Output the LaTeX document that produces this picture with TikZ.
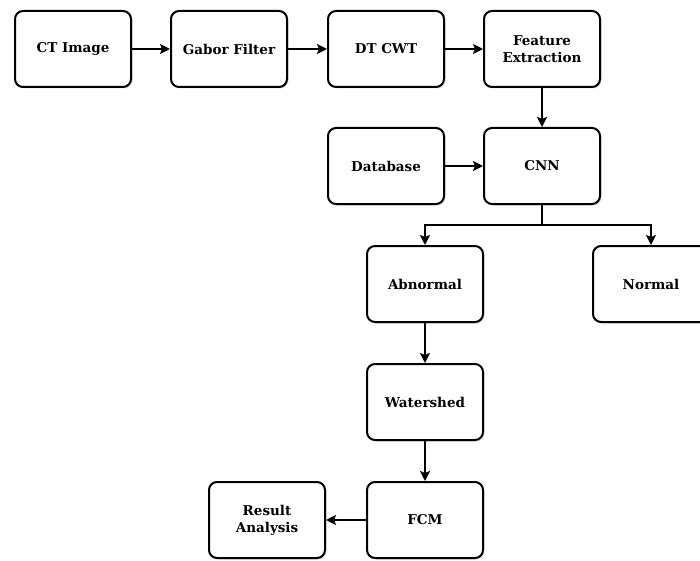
\documentclass[tikz,border=0pt]{standalone}
\usepackage{fontspec}
\setmainfont{DejaVu Serif}
\usetikzlibrary{
  arrows.meta,
  positioning,
  shadows
}
\tikzset{
  % Shared values that are assigned to different keys in the styles below.
  globals/box width/.initial=116pt,
  globals/box height/.initial=76pt,
%
  % For the process boxes.
  box/.style={
    draw,
    line width=2pt,
    rounded corners=8pt,
    fill=white,
    minimum width=\pgfkeysvalueof{/tikz/globals/box width},
    minimum height=\pgfkeysvalueof{/tikz/globals/box height},
    align=center,
    font={\fontsize{13.5pt}{17pt}\selectfont\bfseries},
    drop shadow={shadow xshift=1.5pt, shadow yshift=-1.5pt, opacity=0.25}},
%
  % For the arrows between boxes.
  flow/.style={
    line width=2pt,
    -{Stealth[length=10pt,width=10pt,inset=2pt]}}
}

\begin{document}
\begin{tikzpicture}[x=1pt,y=-1pt]
  \useasboundingbox (0,0) rectangle (700,561);

  % First row.
  \node[box] (ct)      at (73,49)   {CT Image};
  \node[box] (gabor)   at (229,49)  {Gabor Filter};
  \node[box] (dtcwt)   at (386,49)  {DT CWT};
  \node[box] (feature) at (542,49)  {Feature\\Extraction};

  % Second row.
  \node[box] (database) at (386,166) {Database};
  \node[box] (cnn)      at (542,166) {CNN};

  % Classes.
  \node[box] (abnormal) at (425,284) {Abnormal};
  \node[box] (normal)   at (651,284) {Normal};

  % Segmentation.
  \node[box] (watershed) at (425,402) {Watershed};
  \node[box] (fcm)       at (425,520) {FCM};
  \node[box] (result)    at (267,520) {Result\\Analysis};

  \draw[flow] (ct) -- (gabor);
  \draw[flow] (gabor) -- (dtcwt);
  \draw[flow] (dtcwt) -- (feature);
  \draw[flow] (feature) -- (cnn);
  \draw[flow] (database) -- (cnn);

  % Split below the CNN.
  \coordinate[below=20pt of cnn.south] (split);
  \draw[line width=2pt] (cnn.south) -- (split);
  \draw[flow] (split) -| (abnormal.north);
  \draw[flow] (split) -| (normal.north);

  \draw[flow] (abnormal) -- (watershed);
  \draw[flow] (watershed) -- (fcm);
  \draw[flow] (fcm) -- (result);
\end{tikzpicture}
\end{document}
